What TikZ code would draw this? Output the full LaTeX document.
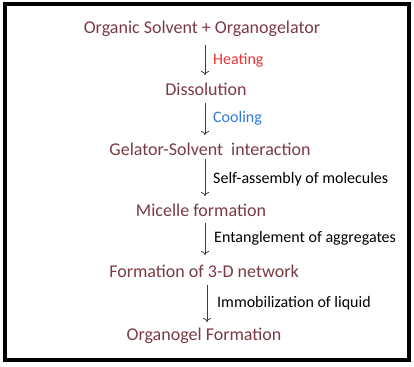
\documentclass[tikz,border=0pt]{standalone}
\usepackage{fontspec}
\setmainfont{Carlito}
\usetikzlibrary{arrows.meta}
\definecolor{stagered}{RGB}{122,58,68}
\definecolor{heatred}{RGB}{240,50,50}
\definecolor{coolblue}{RGB}{50,120,225}
\definecolor{arrowgray}{RGB}{60,60,60}
\begin{document}
\begin{tikzpicture}[x=1pt,y=-1pt,
  stage/.style={text=stagered,font=\fontsize{18}{20}\selectfont,inner sep=0pt,anchor=center},
  steplabel/.style={font=\fontsize{16}{18}\selectfont,inner sep=0pt,anchor=west},
  flow/.style={draw=arrowgray,line width=0.8pt,-{To[length=4pt,width=8pt]}}]
\useasboundingbox (0,0) rectangle (414,366);
\draw[line width=4pt] (5,4) rectangle (409,360);
\node[stage] (s1) at (202,29) {Organic Solvent + Organogelator};
\node[stage] (s2) at (206,89) {Dissolution};
\node[stage] (s3) at (210,149) {Gelator-Solvent\ \ interaction};
\node[stage] (s4) at (201,210) {Micelle formation};
\node[stage] (s5) at (204,271) {Formation of 3-D network};
\node[stage] (s6) at (204,336) {Organogel Formation};
\coordinate (a1s) at (205,45); \coordinate (a1e) at (205,75);
\coordinate (a2s) at (205,103); \coordinate (a2e) at (205,135);
\coordinate (a3s) at (205,159); \coordinate (a3e) at (205,196);
\coordinate (a4s) at (205,223); \coordinate (a4e) at (205,255);
\coordinate (a5s) at (207,285); \coordinate (a5e) at (207,322);
\draw[flow] (a1s) -- (a1e);
\draw[flow] (a2s) -- (a2e);
\draw[flow] (a3s) -- (a3e);
\draw[flow] (a4s) -- (a4e);
\draw[flow] (a5s) -- (a5e);
\node[steplabel,text=heatred] (l1) at (213,60) {Heating};
\node[steplabel,text=coolblue] (l2) at (213,118) {Cooling};
\node[steplabel] (l3) at (213,179) {Self-assembly of molecules};
\node[steplabel] (l4) at (214,238) {Entanglement of aggregates};
\node[steplabel] (l5) at (217,303) {Immobilization of liquid};
\end{tikzpicture}
\end{document}
